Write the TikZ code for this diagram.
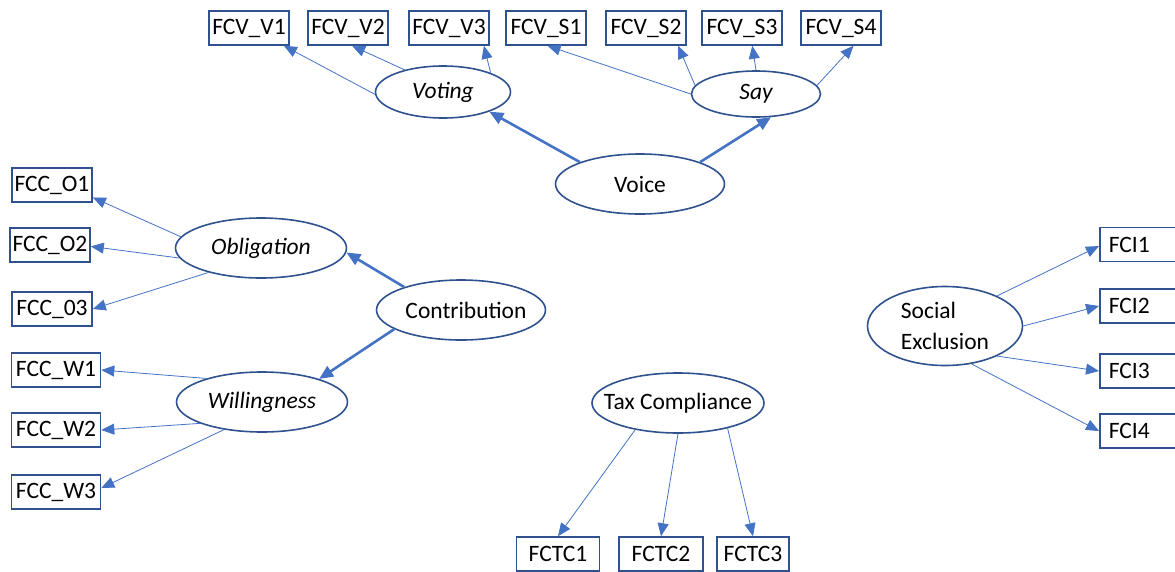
\documentclass[tikz,border=0pt]{standalone}
\usepackage{fontspec}
\setmainfont{Carlito}
\usepackage{tikz}
\usetikzlibrary{arrows.meta,shapes.geometric}
\definecolor{edgeblue}{HTML}{2F528F}
\definecolor{arrblue}{HTML}{4472C4}
\tikzset{
  indbox/.style ={draw=edgeblue, line width=1.6pt, minimum width=80pt, minimum height=34pt, inner sep=2pt, font=\fontsize{23.5}{28}\selectfont},
  latent/.style ={draw=edgeblue, line width=1.6pt, ellipse, inner xsep=-25pt, inner ysep=0pt, align=center, font=\fontsize{23.5}{28}\selectfont},
  ital/.style   ={font=\fontsize{23.5}{28}\selectfont\itshape},
  ldarr/.style  ={-{Triangle[length=13pt,width=11pt]}, draw=arrblue, line width=0.8pt},
  strarr/.style ={-{Triangle[length=14pt,width=12pt]}, draw=arrblue, line width=2.6pt},
}
\begin{document}
\begin{tikzpicture}[x=1pt,y=-1pt]
  \useasboundingbox (0,0) rectangle (1175,571);
  % voice block
  \node[indbox] (v1) at (249,28) {FCV\_V1};
  \node[indbox] (v2) at (348,28) {FCV\_V2};
  \node[indbox] (v3) at (449,28) {FCV\_V3};
  \node[indbox] (s1) at (546,28) {FCV\_S1};
  \node[indbox] (s2) at (646,28) {FCV\_S2};
  \node[indbox] (s3) at (742,28) {FCV\_S3};
  \node[indbox] (s4) at (841,28) {FCV\_S4};
  \node[latent, ital, minimum width=135pt, minimum height=52pt] (voting) at (443,92) {Voting};
  \node[latent, ital, minimum width=129pt, minimum height=46pt] (say) at (756,94) {Say};
  \node[latent, minimum width=169pt, minimum height=60pt] (voice) at (640,184) {Voice};
  \draw[ldarr] (voting.182) -- (v1.-27);
  \draw[ldarr] (voting.150) -- (v2.-77);
  \draw[ldarr] (voting.22) -- (v3.-27);
  \draw[ldarr] (say.west) -- (s1.-85);
  \draw[ldarr] (say.172) -- (s2.-29);
  \draw[ldarr] (say.north) -- (s3.-60);
  \draw[ldarr] (say.8) -- (s4.-55);
  \draw[strarr] (voice.160) -- (voting.-23);
  \draw[strarr] (voice.20) -- (say.-57);
  % contribution block
  \node[indbox] (o1) at (52,185) {FCC\_O1};
  \node[indbox] (o2) at (50,245) {FCC\_O2};
  \node[indbox] (o3) at (52,309) {FCC\_03};
  \node[indbox, minimum width=89pt] (w1) at (56,370) {FCC\_W1};
  \node[indbox, minimum width=89pt] (w2) at (56,430) {FCC\_W2};
  \node[indbox, minimum width=89pt] (w3) at (56,492) {FCC\_W3};
  \node[latent, ital, minimum width=171pt, minimum height=60pt] (oblig) at (261,248) {Obligation};
  \node[latent, minimum width=169pt, minimum height=60pt] (contrib) at (461,310) {\hspace*{10pt}Contribution};
  \node[latent, ital, minimum width=171pt, minimum height=60pt] (willing) at (262,402) {Willingness};
  \draw[ldarr] (oblig.172) -- (o1.-17);
  \draw[ldarr] (oblig.187) -- (o2.-2);
  \draw[ldarr] (oblig.205) -- (o3.east);
  \draw[ldarr] (willing.157) -- (w1.east);
  \draw[ldarr] (willing.199) -- (w2.east);
  \draw[ldarr] (willing.216) -- (w3.5);
  \draw[strarr] (contrib.158) -- (oblig.-3);
  \draw[strarr] (contrib.196) -- (willing.22);
  % tax compliance
  \node[latent, minimum width=172pt, minimum height=60pt] (taxc) at (678,403) {Tax Compliance};
  \node[indbox, minimum width=83pt] (tc1) at (558,554) {FCTC1};
  \node[indbox, minimum width=84pt] (tc2) at (661,554) {FCTC2};
  \node[indbox, minimum width=72pt] (tc3) at (753,554) {FCTC3};
  \draw[ldarr] (taxc.212) -- (tc1.north);
  \draw[ldarr] (taxc.south) -- (tc2.north);
  \draw[ldarr] (taxc.-27) -- (tc3.north);
  % social exclusion
  \node[latent, align=left, font=\fontsize{23.5}{31}\selectfont, minimum width=155pt, minimum height=79pt] (socex) at (945,326) {Social\\Exclusion};
  \node[indbox, anchor=west, text width=70pt, inner xsep=9pt, align=left] (fci1) at (1099,244.5) {FCI1};
  \node[indbox, anchor=west, text width=70pt, inner xsep=9pt, align=left] (fci2) at (1099,306) {FCI2};
  \node[indbox, anchor=west, text width=70pt, inner xsep=9pt, align=left] (fci3) at (1099,371) {FCI3};
  \node[indbox, anchor=west, text width=70pt, inner xsep=9pt, align=left] (fci4) at (1099,431) {FCI4};
  \draw[ldarr] (socex.30) -- (fci1.182);
  \draw[ldarr] (socex.east) -- (fci2.west);
  \draw[ldarr] (socex.-30) -- (fci3.west);
  \draw[ldarr] (socex.-55) -- (fci4.west);
\end{tikzpicture}
\end{document}
